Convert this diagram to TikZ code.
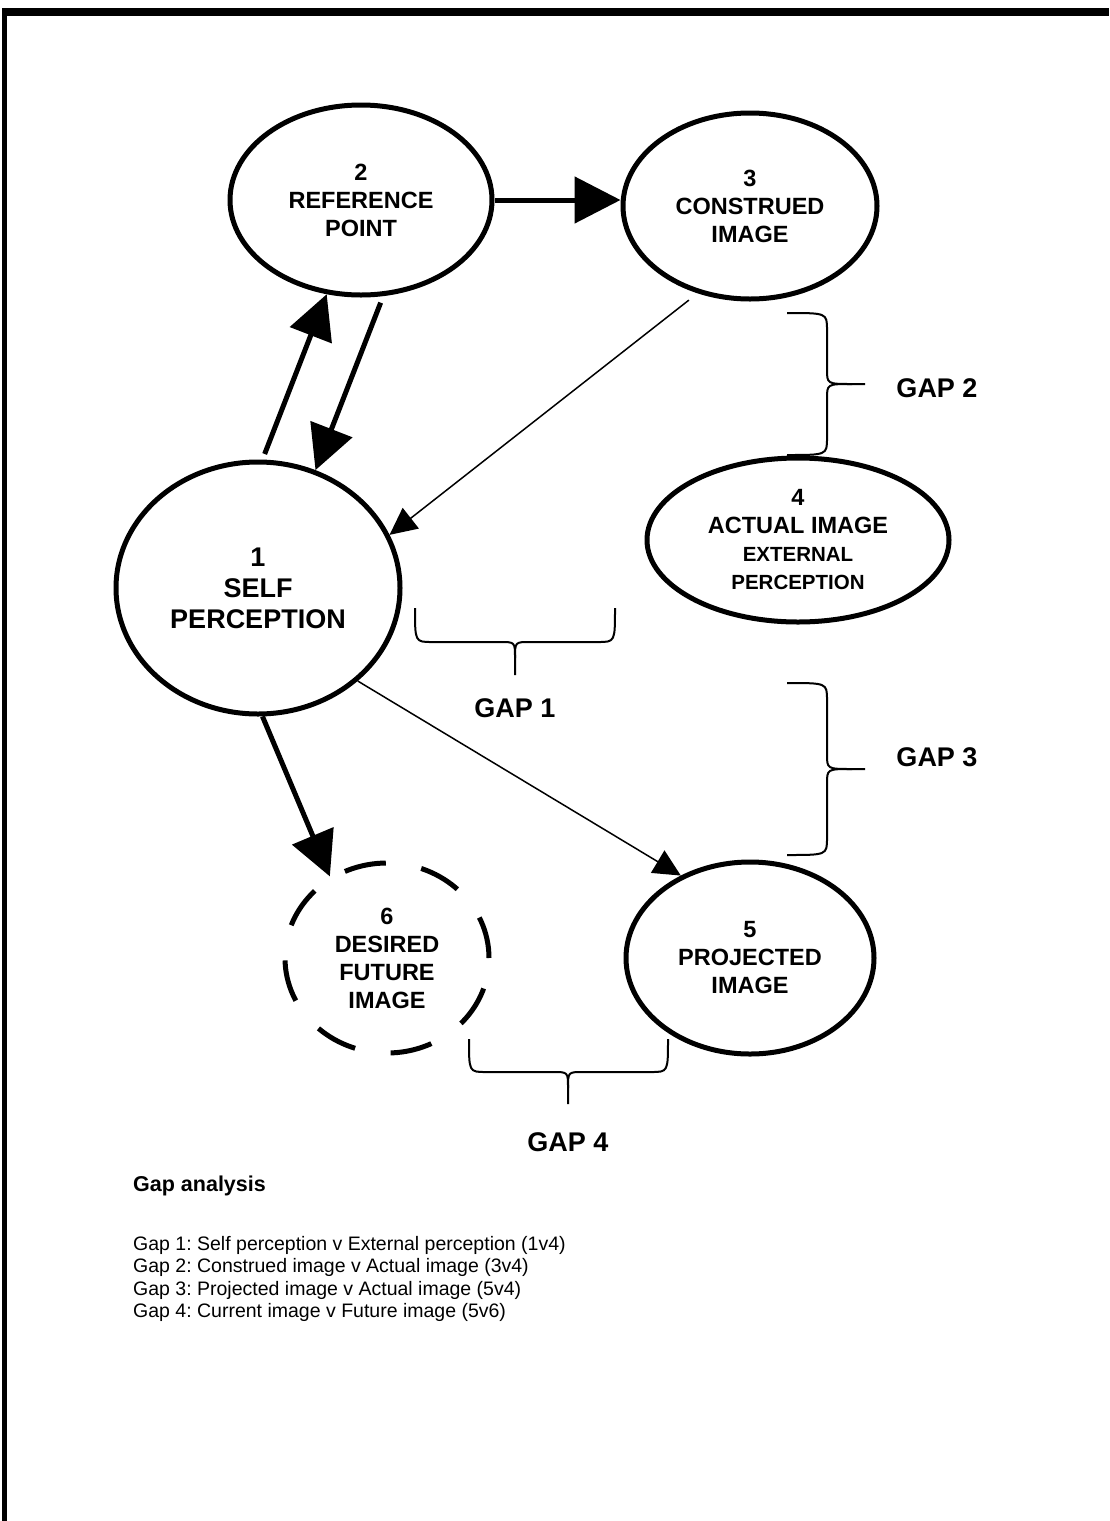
\documentclass[tikz,border=0pt]{standalone}
\usepackage{fontspec}
\setmainfont{Liberation Sans}
\usetikzlibrary{arrows.meta,shapes.geometric}
\newcommand\subf{\fontsize{20.5}{24.5}\selectfont}
\begin{document}
\frenchspacing
\begin{tikzpicture}[x=1pt,y=-1pt,
  bubble/.style={ellipse, draw, line width=5pt, inner sep=0pt, align=center,
    font=\bfseries\fontsize{23.5}{28}\selectfont},
  bigbubble/.style={bubble, font=\bfseries\fontsize{27}{31}\selectfont},
  dashbubble/.style={bubble, dash pattern=on 42pt off 36pt},
  thickarr/.style={line width=5pt, -{Triangle[length=44pt,width=44pt]}},
  thinarr/.style={line width=1.5pt, -{Triangle[length=27pt,width=26pt]}},
  bracestyle/.style={line width=2pt, line join=round},
  gaplabel/.style={font=\bfseries\fontsize{27}{32}\selectfont, inner sep=0pt},
  listtext/.style={font=\fontsize{19.5}{23}\selectfont, anchor=base west, inner sep=0pt}
]
\useasboundingbox (0,0) rectangle (1109,1521);
\fill[white] (0,0) rectangle (1109,1521);
% frame (top and left)
\fill[black] (2,8) rectangle (1109,16);
\fill[black] (2,8) rectangle (7,1521);

% ellipses
\node[bigbubble, minimum width=284pt, minimum height=252pt] (e1) at (258,588) {1\\SELF\\PERCEPTION};
\node[bubble, minimum width=262pt, minimum height=190pt] (e2) at (361,200) {2\\REFERENCE\\POINT};
\node[bubble, minimum width=254pt, minimum height=186pt] (e3) at (750,206) {3\\CONSTRUED\\IMAGE};
\node[bubble, minimum width=302pt, minimum height=164pt] (e4) at (798,540) {4\\ACTUAL IMAGE\\{\subf EXTERNAL}\\{\subf PERCEPTION}};
\node[bubble, minimum width=248pt, minimum height=192pt] (e5) at (750,958) {5\\PROJECTED\\IMAGE};
\node[dashbubble, minimum width=204pt, minimum height=190pt] (e6) at (387,958) {6\\DESIRED\\FUTURE\\IMAGE};

% connectors
\draw[line width=5pt, -{Triangle[length=46pt,width=46pt]}] (e2.east) -- (e2.east -| e3.west);
\draw[thickarr, shorten <=6pt] (e1.88) -- (e2.250);
\draw[thickarr, shorten <=7pt] (e2.-77) -- (e1.64);
\draw[thickarr] (e1.-88) -- (e6.125);
\draw[thinarr, shorten <=11pt] (e3.239) -- (e1.22.6);
\draw[thinarr] (e1.-43.5) -- (e5.130);

% braces
\newcommand\hbrace[6]{% xL xR xM yT yB yP
  \draw[bracestyle] (#1,#4) .. controls (#1,#5) .. (#1+17,#5) -- (#3-15,#5)
     .. controls (#3,#5) .. (#3,#5+16) -- (#3,#6);
  \draw[bracestyle] (#2,#4) .. controls (#2,#5) .. (#2-17,#5) -- (#3+15,#5)
     .. controls (#3,#5) .. (#3,#5+16);
}
\newcommand\vbrace[6]{% yT yB yM xE xB xP
  \draw[bracestyle] (#4,#1) .. controls (#5,#1) .. (#5,#1+17) -- (#5,#3-15)
     .. controls (#5,#3) .. (#5+25,#3) -- (#6,#3);
  \draw[bracestyle] (#4,#2) .. controls (#5,#2) .. (#5,#2-17) -- (#5,#3+15)
     .. controls (#5,#3) .. (#5+25,#3);
}
\hbrace{415}{615}{515}{608}{642}{675}
\hbrace{469}{668}{568}{1039}{1072}{1104}
\vbrace{313}{455}{384}{787}{827}{865}
\vbrace{683}{855}{769}{787}{827}{865}

% gap labels
\node[gaplabel] (g1) at (515,708) {GAP 1};
\node[gaplabel] (g2) at (937,388) {GAP 2};
\node[gaplabel] (g3) at (937,757) {GAP 3};
\node[gaplabel] (g4) at (568,1142) {GAP 4};

% legend
\node[listtext, font=\bfseries\fontsize{21.5}{25}\selectfont] (lt) at (133,1191) {Gap analysis};
\node[listtext] (l1) at (133,1250) {Gap 1: Self perception v External perception (1v4)};
\node[listtext] (l2) at (133,1272.5) {Gap 2: Construed image v Actual image (3v4)};
\node[listtext] (l3) at (133,1295) {Gap 3: Projected image v Actual image (5v4)};
\node[listtext] (l4) at (133,1317.5) {Gap 4: Current image v Future image (5v6)};
\end{tikzpicture}
\end{document}
